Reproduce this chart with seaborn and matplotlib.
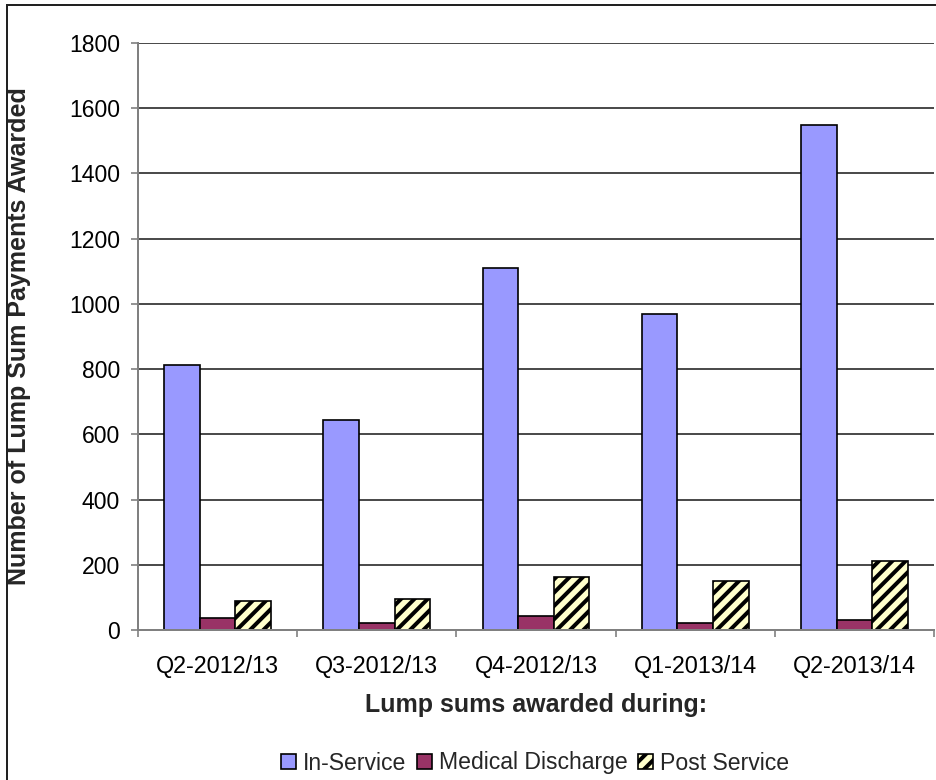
import matplotlib
matplotlib.use('Agg')
import matplotlib.pyplot as plt
import seaborn as sns
import pandas as pd
from matplotlib.patches import Patch, Rectangle
from matplotlib.ticker import MultipleLocator

# data
quarters = ['Q2-2012/13', 'Q3-2012/13', 'Q4-2012/13', 'Q1-2013/14', 'Q2-2013/14']
in_service = [814, 645, 1111, 970, 1550]
medical_discharge = [38, 22, 43, 22, 30]
post_service = [90, 95, 164, 150, 211]
series_names = ['In-Service', 'Medical Discharge', 'Post Service']
colors = ['#9999FF', '#993366', '#FFFFCC']

df = pd.DataFrame({
    'quarter': quarters * 3,
    'count': in_service + medical_discharge + post_service,
    'type': [n for n in series_names for _ in quarters],
})

sns.set_theme(style='white')
plt.rcParams['font.family'] = ['Liberation Sans', 'DejaVu Sans']
plt.rcParams['hatch.linewidth'] = 2.4
plt.rcParams['hatch.color'] = '#1a1a1a'

W, H, DPI = 936, 780, 120
fig = plt.figure(figsize=(W / DPI, H / DPI), dpi=DPI)
ax = fig.add_axes([138 / W, 1 - 630 / H, (934 - 138) / W, (630 - 43) / H])

sns.barplot(data=df, x='quarter', y='count', hue='type', order=quarters,
            hue_order=series_names, palette=colors, width=0.67,
            edgecolor='black', linewidth=1.0, saturation=1, legend=False, ax=ax)

# hatch for post service bars
for bar in ax.containers[2]:
    bar.set_hatch('///')

ax.set_ylim(0, 1800)
ax.set_xlim(-0.5, len(quarters) - 0.5)
ax.yaxis.set_major_locator(MultipleLocator(200))
ax.grid(axis='y', color='#111111', linewidth=0.9)
ax.set_axisbelow(True)

for s in ['top', 'right']:
    ax.spines[s].set_visible(False)
for s in ['left', 'bottom']:
    ax.spines[s].set_color('#808080')
    ax.spines[s].set_linewidth(1.2)

ax.tick_params(axis='y', which='major', length=4.2, width=1, color='#808080',
               pad=6.6, labelsize=13.8, labelcolor='black', left=True)
ax.tick_params(axis='x', which='major', length=0, pad=15, labelsize=14,
               labelcolor='black')
ax.set_xticks([i - 0.5 for i in range(len(quarters) + 1)], minor=True)
ax.tick_params(axis='x', which='minor', length=4.2, width=1, color='#808080',
               direction='out', bottom=True)

ax.set_xlabel('Lump sums awarded during:', fontsize=15, fontweight='bold')
ax.set_ylabel('Number of Lump Sum Payments Awarded', fontsize=15,
              fontweight='bold', va='center')
ax.xaxis.set_label_coords(0.5, (630 - 693) / 587)
ax.yaxis.set_label_coords((19 - 138) / 796, 0.5)

handles = [Patch(facecolor=c, edgecolor='black', linewidth=1.0) for c in colors]
handles[2].set_hatch('///')
fig.legend(handles, series_names, loc='center', bbox_to_anchor=(535 / W, 1 - 763 / H),
           ncol=3, frameon=False, fontsize=13.8, handlelength=0.65,
           handleheight=0.65, handletextpad=0.3, columnspacing=0.45)

# chart area border (cut off on the right and bottom)
fig.patches.append(Rectangle((7 / W, -0.05), 1.2, (1 - 5 / H) + 0.05,
                             transform=fig.transFigure, fill=False,
                             edgecolor='#222222', linewidth=1.2))

fig.savefig('out.png', dpi=DPI)
